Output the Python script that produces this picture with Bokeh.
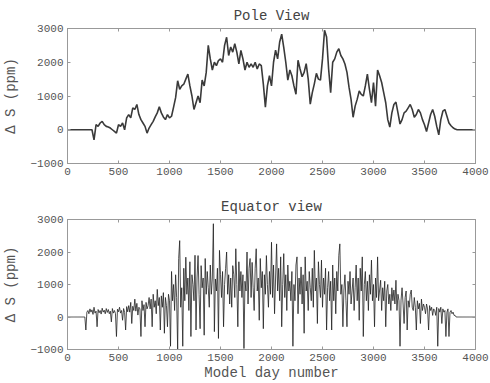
from bokeh.plotting import figure
from bokeh.layouts import column
from bokeh.models import Range1d, LinearAxis, FixedTicker
from bokeh.embed import file_html
from bokeh.resources import INLINE

# ---- data ----
pole_days = list(range(0, 4001, 20))
pole_ds = [
    0, 0, 0, 0, 0, 0, 0, 0, 0, 0,
    0, 0, 0, -300, 150, 100, 200, 250, 150, 100,
    80, 50, 0, -50, -100, 150, 100, 200, 0, 350,
    450, 350, 650, 600, 750, 450, 300, 200, 100, -100,
    50, 150, 250, 380, 500, 680, 500, 380, 300, 450,
    350, 400, 670, 950, 1450, 1200, 1300, 1350, 1500, 1650,
    1300, 1000, 600, 800, 1000, 800, 1470, 1300, 1700, 2500,
    2100, 1770, 2000, 1900, 2050, 2100, 2000, 2500, 2740, 2200,
    2450, 2300, 2550, 2300, 1950, 2350, 2100, 1770, 2000, 1850,
    1950, 1850, 2000, 1800, 1950, 1900, 1350, 670, 1300, 1600,
    1300, 2000, 2360, 2100, 2600, 2830, 2440, 2000, 1470, 1770,
    1600, 1300, 1050, 2060, 1800, 1570, 1700, 1960, 1500, 760,
    1100, 1360, 1670, 1500, 1470, 2100, 2950, 2750, 1800, 1100,
    2000, 2100, 2300, 2400, 2200, 2100, 1950, 1700, 1260, 900,
    370, 700, 900, 1150, 1050, 1000, 1300, 1650, 1200, 800,
    1400, 700, 1770, 1600, 1400, 1100, 800, 300, 80, 500,
    750, 820, 500, 170, 300, 500, 550, 650, 750, 600,
    370, 450, 600, 500, 300, 150, -50, 200, 450, 600,
    400, 100, -150, 300, 550, 600, 400, 200, 120, 60,
    20, 0, 0, 0, 0, 0, 0, 0, 0, 0,
    0,
]

equator_days = list(range(0, 4001, 10))
equator_ds = [
    0, 0, 0, 0, 0, 0, 0, 0, 0, 0, 0, 0, 0, 0, 0, 0, 0, 0, -400, 150,
    200, 100, 250, 150, 220, 80, 300, 120, 180, -300, 230, 130, 200, 90, 270, 150, 210, 100, 260, 140,
    230, 100, 180, -150, 260, 120, 200, 110, -600, 240, 160, 300, 120, 200, -100, 260, 140, -400, 320, 160,
    350, 150, 450, -200, 330, 200, 550, 180, 420, 60, 300, 250, -600, 500, 200, 380, -300, 450, 250, 350,
    600, 250, 550, -300, 700, 300, 500, 100, 850, 350, 600, -400, 650, 300, 750, -500, 600, 350, -300, 700,
    500, -900, 1400, 500, 1000, 200, 1300, 600, -1000, 1800, 2350, 300, 900, -900, 1500, 500, 1840, 700, 1200, 200,
    1700, -600, 1300, 1000, 500, 1900, -400, 1200, 1890, 700, -360, 1580, 900, 1200, -560, 1800, 700, 1400, 900, 300,
    1600, 700, 1200, 2870, -450, 1170, 800, 1500, -660, 2050, 1300, 600, 1400, -300, 1000, 1500, 2000, 700, 1300, 400,
    1200, 300, 1580, 1300, 600, 2100, 1000, -300, 1700, 800, 1400, 600, 1300, -970, 1100, 800, 2000, 400, 1500, 1800,
    600, 1680, 900, 200, 1500, 2100, 800, 1200, -100, 1800, 900, 1400, -360, 1300, 700, 1890, 1000, 300, 1400, 700,
    2300, 600, 1600, 100, 1200, 2250, 800, 1500, 500, 1850, -300, 1000, 1950, 600, 1300, 200, 1600, 800, 1100, 500,
    1400, -900, 1000, 500, 1600, 1850, 100, 1200, 700, 1540, 400, 1300, -500, 1850, 800, 1100, 200, 1400, 900, 500,
    1500, 300, 2050, 800, 1200, -200, 1700, 1000, 600, 1750, 300, 1200, 700, 1500, -400, 900, 1400, 500, 1100, -400,
    1600, 500, 1200, 100, 1400, 800, 1900, 2250, 700, 1000, -300, 830, 1300, 500, -300, 1100, 700, 1400, 400, 800,
    1200, 200, 900, 1600, 500, 1200, -100, 1500, 800, 1850, -600, 1000, 1400, 500, 1100, 200, 1300, 700, 1750, 500,
    1000, -300, 1200, 600, 1850, 500, 830, 1130, 200, 900, 500, 1100, -300, 800, 1000, 400, 700, 200, 900, 500,
    830, 400, 1130, 200, 700, 500, -900, 520, 900, 400, -200, 600, 800, -400, 500, 300, 700, 830, 300, 200,
    600, 300, -400, 500, 250, 420, -200, 550, 200, 400, 300, 100, 400, 250, -400, 350, 200, 300, 50, 250,
    200, 50, 300, -900, 260, 150, 300, -200, 250, 150, 200, -600, 150, 250, -600, 150, 200, 100, 150, 50,
    50, 0, 0, 0, 0, 0, 0, 0, 0, 0, 0, 0, 0, 0, 0, 0, 0, 0, 0, 0,
    0,
]

x_ticks = [0, 500, 1000, 1500, 2000, 2500, 3000, 3500, 4000]
y_ticks = [-1000, 0, 1000, 2000, 3000]

FONT = "Liberation Mono"
TXT = "#555555"
AX = "#999999"


def base_axis_style(ax):
    ax.axis_line_color = AX
    ax.major_tick_line_color = AX
    ax.major_tick_in = 3
    ax.major_tick_out = 0
    ax.minor_tick_line_color = None


def make_panel(days, vals, title, top_border, frame_h, bottom_border, xlabel, lw, color, title_offset):
    p = figure(
        width=490, height=top_border + frame_h + bottom_border,
        output_backend="svg", toolbar_location=None,
        x_range=Range1d(0, 4000), y_range=Range1d(-1000, 3000),
        min_border_left=67, min_border_right=15,
        min_border_top=top_border, min_border_bottom=bottom_border,
        title=title,
    )
    p.title.text_font = FONT
    p.title.text_font_size = "14px"
    p.title.text_font_style = "normal"
    p.title.text_color = "#444444"
    p.title.align = "center"
    p.title.offset = title_offset
    p.outline_line_color = AX
    p.xgrid.visible = False
    p.ygrid.visible = False
    p.background_fill_color = "white"
    p.border_fill_color = "white"

    p.line(days, vals, line_width=lw, line_color=color)

    xb = p.xaxis[0]
    yl = p.yaxis[0]
    xb.ticker = FixedTicker(ticks=x_ticks)
    yl.ticker = FixedTicker(ticks=y_ticks)
    for ax in (xb, yl):
        base_axis_style(ax)
        ax.major_label_text_font = FONT
        ax.major_label_text_font_size = "11px"
        ax.major_label_text_color = TXT
        ax.axis_label_text_font = FONT
        ax.axis_label_text_font_size = "14px"
        ax.axis_label_text_font_style = "normal"
        ax.axis_label_text_color = TXT
    xb.major_label_standoff = 4
    yl.major_label_standoff = 4
    yl.axis_label = "\u0394 S (ppm)"
    yl.axis_label_standoff = 8
    if xlabel:
        xb.axis_label = xlabel
        xb.axis_label_standoff = 1

    # box ticks on the top and right sides (no labels)
    xt = LinearAxis(ticker=FixedTicker(ticks=x_ticks),
                    major_label_overrides={t: "" for t in x_ticks})
    yr = LinearAxis(ticker=FixedTicker(ticks=y_ticks),
                    major_label_overrides={t: "" for t in y_ticks})
    for ax in (xt, yr):
        base_axis_style(ax)
        ax.major_label_text_color = None
        ax.major_label_standoff = 0
    p.add_layout(xt, "above")
    p.add_layout(yr, "right")
    return p


p1 = make_panel(pole_days, pole_ds, "Pole View", 28, 135, 27, None, 1.6, "#3a3a3a", 7)
p2 = make_panel(equator_days, equator_ds, "Equator view", 29, 131, 33, "Model day number", 0.8, "#222222", 9)

layout = column(p1, p2, spacing=0)
open("out.html", "w").write(file_html(layout, INLINE))
